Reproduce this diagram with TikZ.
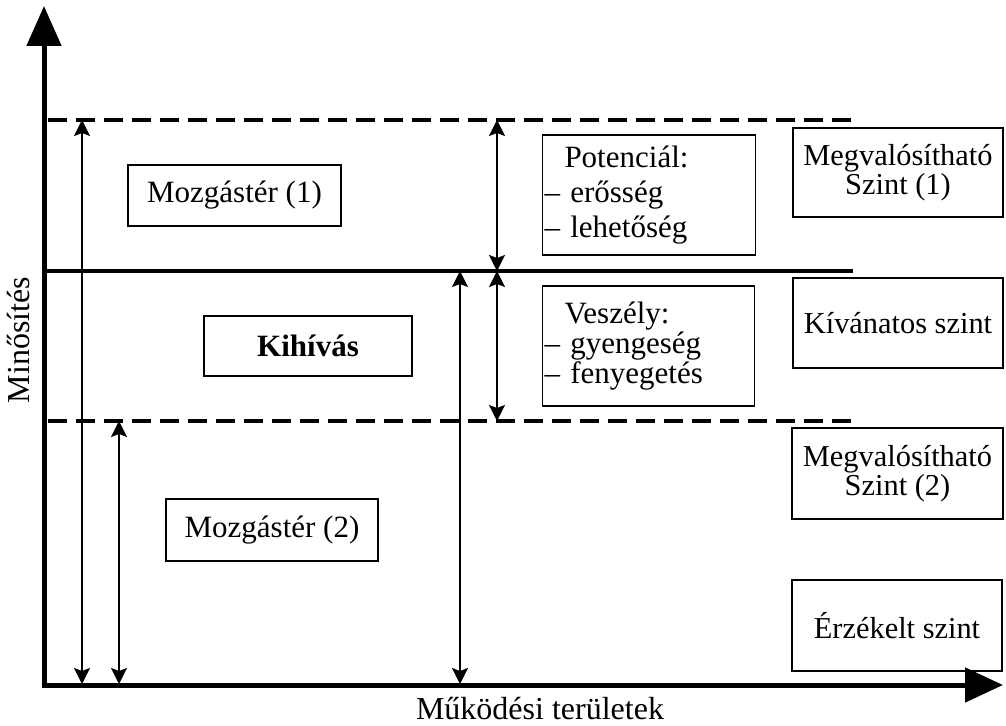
\documentclass[tikz,border=0pt]{standalone}
\usepackage{fontspec}
\setmainfont{Liberation Serif}
\usetikzlibrary{arrows.meta}
\begin{document}
\begin{tikzpicture}[x=0.5pt,y=-0.5pt,
  box/.style={draw, line width=0.6pt, inner sep=0pt, font=\fontsize{15.5}{14.5}\selectfont, align=center},
  rbox/.style={box, font=\fontsize{15.2}{14.5}\selectfont},
  axis/.style={line width=2.5pt, {Triangle[length=20pt,width=17pt]}-{Triangle[length=19pt,width=17pt]}},
  level/.style={line width=2pt},
  dashedlevel/.style={line width=2pt, dash pattern=on 9.5pt off 4.5pt},
  dbl/.style={line width=0.9pt, {Stealth[length=8pt,width=8pt,inset=1.5pt]}-{Stealth[length=8pt,width=8pt,inset=1.5pt]}},
  lbl/.style={font=\fontsize{16}{17}\selectfont, inner sep=0pt}]
\useasboundingbox (0,0) rectangle (1006,726);

% axes
\coordinate (ytip) at (44,6);
\coordinate (origin) at (44,685);
\coordinate (xtip) at (1003,685);
\draw[axis] (ytip) -- (origin) -- (xtip);

% level lines
\coordinate (d1s) at (48,120);  \coordinate (d1e) at (853,120);
\coordinate (s1s) at (46,271);  \coordinate (s1e) at (853,271);
\coordinate (d2s) at (48,421);  \coordinate (d2e) at (853,421);
\draw[dashedlevel] (d1s) -- (d1e);
\draw[level] (s1s) -- (s1e);
\draw[dashedlevel] (d2s) -- (d2e);

% double arrows
\coordinate (a1t) at (82,120);  \coordinate (a1b) at (82,684);
\coordinate (a2t) at (119,421); \coordinate (a2b) at (119,684);
\coordinate (a3t) at (460,271); \coordinate (a3b) at (460,684);
\coordinate (a4t) at (497,120); \coordinate (a4b) at (497,271);
\coordinate (a5t) at (497,271); \coordinate (a5b) at (497,421);
\draw[dbl] (a1t) -- (a1b);
\draw[dbl] (a2t) -- (a2b);
\draw[dbl] (a3t) -- (a3b);
\draw[dbl] (a4t) -- (a4b);
\draw[dbl] (a5t) -- (a5b);

% boxes
\node[box, minimum width=106.5pt, minimum height=30.5pt] (m1) at (234.5,195.5) {Mozgástér (1)};
\node[box, minimum width=104pt, minimum height=30pt, font=\fontsize{15.5}{14.5}\selectfont\bfseries] (kih) at (308,346) {Kihívás};
\node[box, minimum width=106pt, minimum height=31pt] (m2) at (272,530) {Mozgástér (2)};
\node[box, text width=104.5pt, inner xsep=1pt, minimum height=60pt, align=left, font=\fontsize{15.5}{17.5}\selectfont] (pot) at (649,195) {\hspace*{10pt}Potenciál:\\– erősség\\– lehetőség};
\node[box, text width=104pt, inner xsep=1pt, minimum height=60pt, align=left, font=\fontsize{15.5}{15}\selectfont] (vesz) at (648.5,346) {\hspace*{10pt}Veszély:\\– gyengeség\\– fenyegetés};
\node[rbox, minimum width=105pt, minimum height=44.5pt] (ms1) at (898,172.5) {Megvalósítható\\Szint (1)};
\node[rbox, minimum width=105pt, minimum height=45pt] (kiv) at (898,323) {Kívánatos szint};
\node[rbox, minimum width=105.5pt, minimum height=45.5pt] (ms2) at (897.5,473.5) {Megvalósítható\\Szint (2)};
\node[rbox, minimum width=105pt, minimum height=45.5pt] (erz) at (897,625.5) {Érzékelt szint};

% axis labels
\node[lbl, rotate=90, anchor=base] (ylab) at (29,340) {Minősítés};
\node[lbl, anchor=base] (xlab) at (540,719) {Működési területek};
\end{tikzpicture}
\end{document}
